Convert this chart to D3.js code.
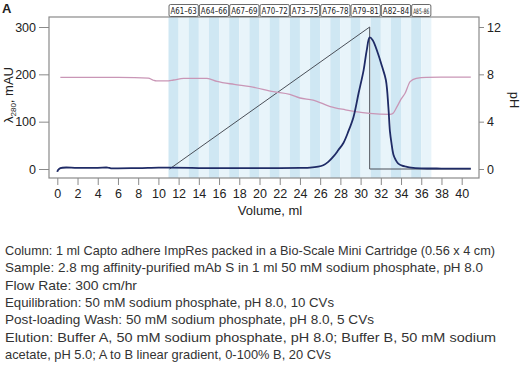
<!DOCTYPE html>
<html>
<head>
<meta charset="utf-8">
<script src="https://cdn.jsdelivr.net/npm/d3@7"></script>
<style>
  body { margin: 0; background: #fff; }
  svg { display: block; font-family: "Liberation Sans", Arial, sans-serif; }
  .axis text { font-size: 12.5px; fill: #222; }
  .axis path, .axis line { stroke: #8a8a8a; }
  .frac { font-family: "Liberation Sans Narrow", "DejaVu Sans Condensed", "Liberation Sans", sans-serif; }
</style>
</head>
<body>
<svg width="525" height="366"></svg>
<script>
// UV trace (A280, mAU) against volume (ml)
var uvVolume = [0, 0.05, 0.3, 2, 4, 5, 5.3, 6, 8, 10, 11, 14, 18, 22, 24, 25, 25.8, 26.3, 26.8, 27.3,
  27.8, 28.3, 28.8, 29.3, 29.8, 30.3, 30.6, 30.9, 31.2, 31.7, 32.1, 32.5, 32.75, 32.9, 33.05, 33.25,
  33.45, 33.7, 34.1, 34.5, 35, 36, 38, 40.9];
var uvValue = [-6, -3, 2, 2.5, 2.5, 3, 1.5, 1.5, 2, 3, 3, 2, 2, 2, 2.5, 3, 5, 8, 15, 26,
  40, 55, 80, 110, 160, 209, 250, 278, 272, 245, 218, 188, 130, 80, 55, 30,
  20, 12, 7, 5, 3, 1.5, 1, 1];

// pH trace
var phVolume = [0.3, 3, 6, 9.0, 9.5, 9.8, 10.8, 11.5, 12.5, 14.8, 15.8, 17.5, 19.1, 21.4, 23.0, 24.0,
  25.3, 27.0, 28.5, 29.5, 30.9, 32.9, 33.2, 33.6, 34.0, 34.4, 34.9, 35.5, 36.5, 38, 40.9];
var phValue = [7.75, 7.75, 7.74, 7.68, 7.5, 7.44, 7.44, 7.52, 7.66, 7.66, 7.4, 7.15, 6.96, 6.53, 6.3, 6.0,
  5.83, 5.27, 5.0, 4.85, 4.7, 4.62, 4.7, 5.27, 5.9, 6.4, 7.38, 7.66, 7.75, 7.76, 7.76];

// gradient, % buffer B
var gradVolume = [11.1, 30.9, 30.9, 40.9];
var gradB = [0, 100, 0, 0];

// collected fractions, 1 ml each
var fractionStart = 11;
var fractionCount = 26;
var fractionGroups = ["A61\u201363", "A64\u201366", "A67\u201369", "A70\u201372", "A73\u201375",
  "A76\u201378", "A79\u201381", "A82\u201384", "A85\u201386"];
var groupSizes = [3, 3, 3, 3, 3, 3, 3, 3, 2];

var xTicks = d3.range(0, 41, 2);
var uvTicks = [0, 100, 200, 300];
var phTicks = [0, 4, 8, 12];

var notes = [
  "Column: 1 ml Capto adhere ImpRes packed in a Bio-Scale Mini Cartridge (0.56 x 4 cm)",
  "Sample:  2.8 mg affinity-purified mAb S in 1 ml 50 mM sodium phosphate, pH 8.0",
  "Flow Rate:  300 cm/hr",
  "Equilibration:  50 mM sodium phosphate, pH 8.0, 10 CVs",
  "Post-loading Wash:  50 mM sodium phosphate, pH 8.0, 5 CVs",
  "Elution:   Buffer A, 50 mM sodium phosphate, pH 8.0; Buffer B, 50 mM sodium",
  "acetate, pH 5.0; A to B linear gradient, 0-100% B, 20 CVs"
];
var noteWidths = [490, 478, 132, 329, 369, 491, 326];

var svg = d3.select("svg");
var plotLeft = 49, plotRight = 479, plotTop = 17, plotBottom = 178;

var x = d3.scaleLinear().domain([0, 40]).range([57.3, 461.7]);
var yUv = d3.scaleLinear().domain([0, 300]).range([169, 27]);
var yPh = d3.scaleLinear().domain([0, 12]).range([169, 27]);
var yB = d3.scaleLinear().domain([0, 100]).range([169, 27]);

// fraction stripes
svg.append("g").selectAll("rect")
  .data(d3.range(fractionCount))
  .enter().append("rect")
    .attr("x", function(d) { return x(fractionStart + d); })
    .attr("y", plotTop)
    .attr("width", x(1) - x(0))
    .attr("height", plotBottom - plotTop)
    .attr("fill", function(d) { return d % 2 ? "#e8f4fa" : "#cfe7f3"; });

// frame
svg.append("rect")
  .attr("x", plotLeft).attr("y", plotTop)
  .attr("width", plotRight - plotLeft).attr("height", plotBottom - plotTop)
  .attr("fill", "none").attr("stroke", "#8a8a8a").attr("stroke-width", 1.2);

// fraction labels
var starts = [];
groupSizes.reduce(function(acc, n) { starts.push(acc); return acc + n; }, fractionStart);
var fl = svg.append("g").selectAll("g")
  .data(fractionGroups)
  .enter().append("g");
fl.append("rect")
  .attr("x", function(d, i) { return x(starts[i]) + 0.5; })
  .attr("y", 4.5)
  .attr("width", function(d, i) { return x(starts[i] + groupSizes[i]) - x(starts[i]) - 1; })
  .attr("height", 12)
  .attr("rx", 1.5)
  .attr("fill", "#fff").attr("stroke", "#444").attr("stroke-width", 0.8);
fl.append("text")
  .attr("class", "frac")
  .attr("x", function(d, i) { return x(starts[i] + groupSizes[i] / 2); })
  .attr("y", 14.2)
  .attr("text-anchor", "middle")
  .attr("font-size", function(d, i) { return groupSizes[i] > 2 ? 9.5 : 7.5; })
  .attr("fill", "#222")
  .attr("textLength", function(d, i) { return x(starts[i] + groupSizes[i]) - x(starts[i]) - 4; })
  .attr("lengthAdjust", "spacingAndGlyphs")
  .text(function(d) { return d; });

// axes
svg.append("g").attr("class", "axis")
  .attr("transform", "translate(0," + plotBottom + ")")
  .call(d3.axisBottom(x).tickValues(xTicks).tickSize(7).tickPadding(4).tickSizeOuter(0))
  .select(".domain").remove();
svg.append("g").attr("class", "axis")
  .attr("transform", "translate(" + plotLeft + ",0)")
  .call(d3.axisLeft(yUv).tickValues(uvTicks).tickSize(10).tickPadding(3).tickSizeOuter(0))
  .select(".domain").remove();
svg.append("g").attr("class", "axis")
  .attr("transform", "translate(" + plotRight + ",0)")
  .call(d3.axisRight(yPh).tickValues(phTicks).tickSize(5).tickPadding(3).tickSizeOuter(0))
  .select(".domain").remove();

// axis titles
svg.append("text")
  .attr("x", 270).attr("y", 215)
  .attr("text-anchor", "middle").attr("font-size", 13).attr("fill", "#222")
  .text("Volume, ml");
var yl = svg.append("text")
  .attr("transform", "translate(13,95) rotate(-90)")
  .attr("text-anchor", "middle").attr("font-size", 13).attr("fill", "#222");
yl.append("tspan").text("\u03bb");
yl.append("tspan").attr("font-size", 8).attr("dy", 3).text("280");
yl.append("tspan").attr("dy", -3).text(", mAU");
svg.append("text")
  .attr("transform", "translate(510,100) rotate(90)")
  .attr("text-anchor", "middle").attr("font-size", 13).attr("fill", "#222")
  .text("pH");
svg.append("text")
  .attr("x", 2).attr("y", 13)
  .attr("font-size", 13).attr("font-weight", "bold").attr("fill", "#222")
  .text("A");

// traces
var line = d3.line().curve(d3.curveMonotoneX);

svg.append("path")
  .attr("d", d3.line()(gradVolume.map(function(v, i) { return [x(v), yB(gradB[i])]; })))
  .attr("fill", "none").attr("stroke", "#4a4f58").attr("stroke-width", 1);

svg.append("path")
  .attr("d", line(phVolume.map(function(v, i) { return [x(v), yPh(phValue[i])]; })))
  .attr("fill", "none").attr("stroke", "#c996b6").attr("stroke-width", 1.3);

svg.append("path")
  .attr("d", d3.line().curve(d3.curveCatmullRom)(uvVolume.map(function(v, i) { return [x(v), yUv(uvValue[i])]; })))
  .attr("fill", "none").attr("stroke", "#1f2b66").attr("stroke-width", 1.8)
  .attr("stroke-linejoin", "round");

// method notes
svg.append("g").selectAll("text")
  .data(notes)
  .enter().append("text")
    .attr("x", 5)
    .attr("y", function(d, i) { return 255 + i * 17.3; })
    .attr("font-size", 13.5)
    .attr("fill", "#333")
    .attr("textLength", function(d, i) { return noteWidths[i]; })
    .attr("lengthAdjust", "spacingAndGlyphs")
    .text(function(d) { return d; });
</script>
</body>
</html>
